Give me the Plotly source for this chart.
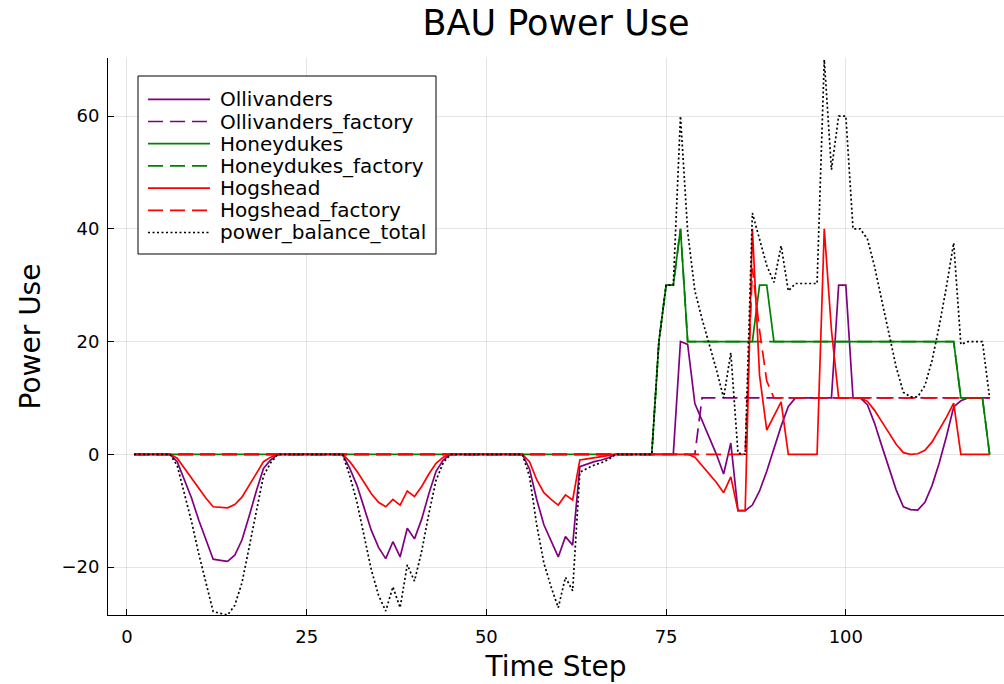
import plotly.graph_objects as go

time_step = list(range(1, 121))

ollivanders = [
    0, 0, 0, 0, 0, 0, -1.3, -4.6, -7.8, -11.7, -15.2, -18.6, -18.8, -19.0, -17.9, -15.2, -11.0, -6.5, -2.5, -1.0, 0, 0, 0, 0,
    0, 0, 0, 0, 0, 0, -2.5, -5.5, -9.5, -13.5, -16.5, -18.5, -15.5, -18.2, -13.1, -15.0, -11.5, -7.0, -3.0, -1.0, 0, 0, 0, 0,
    0, 0, 0, 0, 0, 0, 0, -2.6, -8.0, -12.5, -15.5, -18.2, -14.6, -16.1, -2.2, -1.7, -1.3, -1.0, -0.6, 0, 0, 0, 0, 0,
    0, 0, 0, 0, 20, 19.5, 9, 6, 3, 0, -3.5, 2, -10, -10, -9, -6.5, -3, 1, 5, 8.5, 10, 10, 10, 10,
    10, 10, 30, 30, 10, 10, 8.8, 5.5, 1.5, -2.6, -6.3, -9.3, -9.8, -9.9, -8.5, -5.5, -1.5, 3.2, 8.4, 9.5, 10, 10, 10, 10,
]

ollivanders_factory = [
    0, 0, 0, 0, 0, 0, 0, 0, 0, 0, 0, 0, 0, 0, 0, 0, 0, 0, 0, 0, 0, 0, 0, 0,
    0, 0, 0, 0, 0, 0, 0, 0, 0, 0, 0, 0, 0, 0, 0, 0, 0, 0, 0, 0, 0, 0, 0, 0,
    0, 0, 0, 0, 0, 0, 0, 0, 0, 0, 0, 0, 0, 0, 0, 0, 0, 0, 0, 0, 0, 0, 0, 0,
    0, 0, 0, 0, 0, 0, 0, 10, 10, 10, 10, 10, 10, 10, 10, 10, 10, 10, 10, 10, 10, 10, 10, 10,
    10, 10, 10, 10, 10, 10, 10, 10, 10, 10, 10, 10, 10, 10, 10, 10, 10, 10, 10, 10, 10, 10, 10, 10,
]

honeydukes = [
    0, 0, 0, 0, 0, 0, 0, 0, 0, 0, 0, 0, 0, 0, 0, 0, 0, 0, 0, 0, 0, 0, 0, 0,
    0, 0, 0, 0, 0, 0, 0, 0, 0, 0, 0, 0, 0, 0, 0, 0, 0, 0, 0, 0, 0, 0, 0, 0,
    0, 0, 0, 0, 0, 0, 0, 0, 0, 0, 0, 0, 0, 0, 0, 0, 0, 0, 0, 0, 0, 0, 0, 0,
    0, 20, 30, 30, 40, 20, 20, 20, 20, 20, 20, 20, 20, 20, 20, 30, 30, 20, 20, 20, 20, 20, 20, 20,
    20, 20, 20, 20, 20, 20, 20, 20, 20, 20, 20, 20, 20, 20, 20, 20, 20, 20, 20, 10, 10, 10, 10, 0,
]

honeydukes_factory = [
    0, 0, 0, 0, 0, 0, 0, 0, 0, 0, 0, 0, 0, 0, 0, 0, 0, 0, 0, 0, 0, 0, 0, 0,
    0, 0, 0, 0, 0, 0, 0, 0, 0, 0, 0, 0, 0, 0, 0, 0, 0, 0, 0, 0, 0, 0, 0, 0,
    0, 0, 0, 0, 0, 0, 0, 0, 0, 0, 0, 0, 0, 0, 0, 0, 0, 0, 0, 0, 0, 0, 0, 0,
    0, 20, 30, 30, 40, 20, 20, 20, 20, 20, 20, 20, 20, 20, 20, 20, 20, 20, 20, 20, 20, 20, 20, 20,
    20, 20, 20, 20, 20, 20, 20, 20, 20, 20, 20, 20, 20, 20, 20, 20, 20, 20, 20, 10, 10, 10, 10, 0,
]

hogshead = [
    0, 0, 0, 0, 0, 0, -0.7, -2.5, -4.2, -6.0, -7.8, -9.3, -9.4, -9.5, -8.9, -7.6, -5.5, -3.3, -1.3, -0.5, 0, 0, 0, 0,
    0, 0, 0, 0, 0, 0, -1.3, -3.0, -5.0, -7.0, -8.5, -9.3, -8.0, -9.0, -6.5, -7.5, -5.7, -3.5, -1.6, -0.5, 0, 0, 0, 0,
    0, 0, 0, 0, 0, 0, 0, -1.3, -4.5, -6.8, -8.0, -9.0, -7.2, -8.1, -1.0, -0.8, -0.6, -0.5, -0.3, 0, 0, 0, 0, 0,
    0, 0, 0, 0, 0, 0, -0.5, -2, -3.5, -5, -6.8, -4, -10, -10, 40, 14, 4.3, 6.7, 9.3, 0, 0, 0, 0, 0,
    40, 22, 10, 10, 10, 10, 9.4, 7.8, 5.8, 3.7, 1.8, 0.3, 0.0, 0.1, 0.7, 2.2, 4.3, 6.6, 9.1, 0, 0, 0, 0, 0,
]

hogshead_factory = [
    0, 0, 0, 0, 0, 0, 0, 0, 0, 0, 0, 0, 0, 0, 0, 0, 0, 0, 0, 0, 0, 0, 0, 0,
    0, 0, 0, 0, 0, 0, 0, 0, 0, 0, 0, 0, 0, 0, 0, 0, 0, 0, 0, 0, 0, 0, 0, 0,
    0, 0, 0, 0, 0, 0, 0, 0, 0, 0, 0, 0, 0, 0, 0, 0, 0, 0, 0, 0, 0, 0, 0, 0,
    0, 0, 0, 0, 0, 0, 0, 0, 0, 0, 0, 0, 0, 0, 33, 22, 13, 10, 10, 10, 10, 10, 10, 10,
    10, 10, 10, 10, 10, 10, 10, 10, 10, 10, 10, 10, 10, 10, 10, 10, 10, 10, 10, 10, 10, 10, 10, 10,
]

power_balance_total = [
    0, 0, 0, 0, 0, 0, -2.0, -7.1, -12.0, -17.7, -23.0, -27.9, -28.2, -28.5, -26.8, -22.8, -16.5, -9.8, -3.8, -1.5, 0, 0, 0, 0,
    0, 0, 0, 0, 0, 0, -3.8, -8.5, -14.5, -20.5, -25.0, -27.8, -23.5, -27.2, -19.6, -22.5, -17.2, -10.5, -4.6, -1.5, 0, 0, 0, 0,
    0, 0, 0, 0, 0, 0, 0, -3.9, -12.5, -19.3, -23.5, -27.2, -21.8, -24.2, -3.2, -2.5, -1.9, -1.5, -0.9, 0, 0, 0, 0, 0,
    0, 20, 30, 30, 60, 39.5, 29, 24, 19.5, 15, 10, 18, 0.2, 0, 42.8, 38, 33.5, 30.5, 37, 29, 30.3, 30.3, 30.3, 30.3,
    70, 50.5, 60, 60, 40, 40, 38.2, 33.3, 27.3, 21.1, 15.5, 11, 10.2, 10.2, 12.2, 16.7, 22.8, 29.8, 37.5, 19.5, 20, 20, 20, 10,
]

x_ticks = [0, 25, 50, 75, 100]
y_ticks = [-20, 0, 20, 40, 60]

series = [
    ("Ollivanders", ollivanders, "#800080", "solid"),
    ("Ollivanders_factory", ollivanders_factory, "#800080", "15px,7px"),
    ("Honeydukes", honeydukes, "#008000", "solid"),
    ("Honeydukes_factory", honeydukes_factory, "#008000", "15px,7px"),
    ("Hogshead", hogshead, "#ff0000", "solid"),
    ("Hogshead_factory", hogshead_factory, "#ff0000", "15px,7px"),
    ("power_balance_total", power_balance_total, "#000000", "2px,2.5px"),
]

FONT = "DejaVu Sans"
W, H = 1004, 684
ML, MR, MT, MB = 108, 0, 58, 69
PW, PH = W - ML - MR, H - MT - MB


def px_x(px):
    return (px - ML) / PW


def px_y(py):
    return (H - MB - py) / PH


fig = go.Figure()
for name, vals, color, dash in series:
    fig.add_trace(go.Scatter(
        x=time_step, y=vals, mode="lines", name=name, showlegend=False,
        line=dict(color=color, width=1.7, dash=dash),
    ))

# legend drawn as a boxed key in the top-left corner
shapes = [dict(type="rect", xref="paper", yref="paper",
               x0=px_x(138), x1=px_x(436), y0=px_y(254), y1=px_y(76),
               line=dict(color="black", width=1), fillcolor="white", layer="above")]
annotations = []
for i, (name, vals, color, dash) in enumerate(series):
    yc = 99.3 + 22.2 * i
    shapes.append(dict(type="line", xref="paper", yref="paper",
                       x0=px_x(148), x1=px_x(210), y0=px_y(yc), y1=px_y(yc),
                       line=dict(color=color, width=1.7, dash=dash), layer="above"))
    annotations.append(dict(xref="paper", yref="paper", x=px_x(218), y=px_y(yc),
                            xanchor="left", yanchor="middle", showarrow=False,
                            text=name, font=dict(family=FONT, size=20, color="black")))

axis_common = dict(
    showgrid=True, gridcolor="rgba(0,0,0,0.1)", gridwidth=1,
    zeroline=False, showline=True, linecolor="black", linewidth=1,
    ticks="inside", ticklen=6, tickcolor="black",
    tickfont=dict(family=FONT, size=18, color="black"),
    mirror=False,
)

fig.update_layout(
    width=W, height=H,
    margin=dict(l=ML, r=MR, t=MT, b=MB),
    paper_bgcolor="white", plot_bgcolor="white",
    font=dict(family=FONT, color="black"),
    title=dict(text="BAU Power Use", x=0.5, xref="paper", y=1 - 23 / H, yanchor="middle",
               font=dict(family=FONT, size=35, color="black")),
    xaxis=dict(range=[-2.63, 122.0], tickvals=x_ticks, ticklabelstandoff=5,
               title=dict(text="Time Step", font=dict(family=FONT, size=28), standoff=10),
               **axis_common),
    yaxis=dict(range=[-28.5, 70.3], tickvals=y_ticks, ticklabelstandoff=4,
               title=dict(text="Power Use", font=dict(family=FONT, size=28), standoff=12),
               **axis_common),
    shapes=shapes,
    annotations=annotations,
    showlegend=False,
)

fig.write_html("out.html")
